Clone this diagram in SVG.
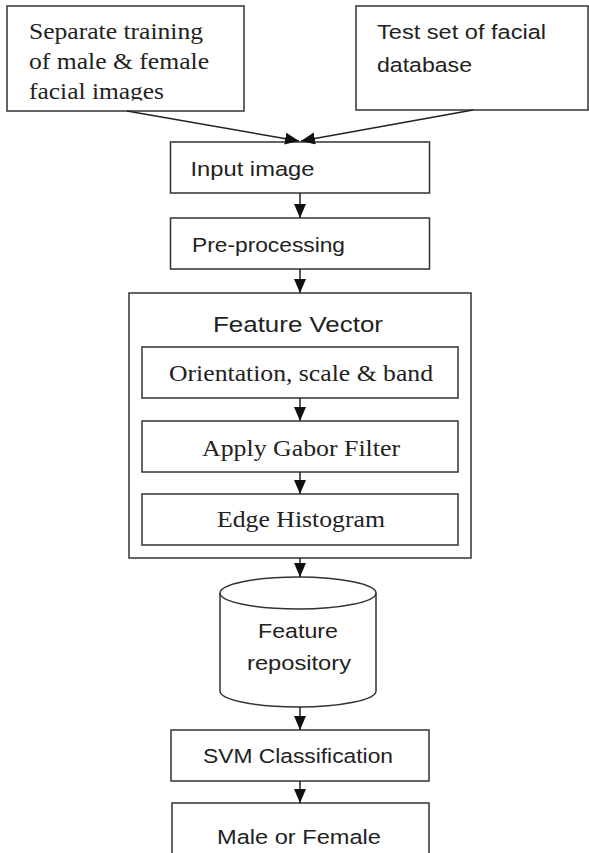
<svg xmlns="http://www.w3.org/2000/svg" width="589" height="853" viewBox="0 0 589 853">
<style>
.box{fill:#fff;stroke:#333;stroke-width:1.5}
.con{fill:none;stroke:#222;stroke-width:1.5}
.serif{font-family:"Liberation Serif","Times New Roman",serif;font-size:23px;fill:#222}
.sans{font-family:"Liberation Sans",Arial,sans-serif;font-size:20.5px;fill:#222}
</style>
<defs>
<marker id="arr" markerUnits="userSpaceOnUse" markerWidth="15" markerHeight="13" refX="14" refY="6" orient="auto">
<path d="M0,0 L14,6 L0,12 z" fill="#111"/>
</marker>
<clipPath id="clip1"><rect x="7" y="6" width="237" height="94.5"/></clipPath>
</defs>
<rect width="589" height="853" fill="#fff"/>
<g id="training">
<rect class="box" x="7" y="6" width="237" height="105"/>
<g clip-path="url(#clip1)">
<text class="serif" x="29" y="39" textLength="174" lengthAdjust="spacingAndGlyphs">Separate training</text>
<text class="serif" x="29" y="69" textLength="180" lengthAdjust="spacingAndGlyphs">of male &amp; female</text>
<text class="serif" x="29" y="99" textLength="135" lengthAdjust="spacingAndGlyphs">facial images</text>
</g>
</g>
<g id="testset">
<rect class="box" x="356" y="6" width="232" height="104"/>
<text class="sans" x="377" y="39" textLength="169" lengthAdjust="spacingAndGlyphs">Test set of facial</text>
<text class="sans" x="377" y="72" textLength="95" lengthAdjust="spacingAndGlyphs">database</text>
</g>
<g id="input">
<rect class="box" x="170.5" y="142" width="259" height="51"/>
<text class="sans" x="190.5" y="175.5" textLength="124" lengthAdjust="spacingAndGlyphs">Input image</text>
</g>
<g id="preprocessing">
<rect class="box" x="170.5" y="218" width="259" height="51"/>
<text class="sans" x="192" y="252" textLength="153" lengthAdjust="spacingAndGlyphs">Pre-processing</text>
</g>
<g id="featurevector">
<rect class="box" x="129" y="293" width="342" height="265"/>
<text class="sans" x="213" y="332" style="font-size:22px" textLength="170" lengthAdjust="spacingAndGlyphs">Feature Vector</text>
</g>
<g id="orientation">
<rect class="box" x="142" y="347" width="316" height="51"/>
<text class="serif" x="169" y="381" textLength="264" lengthAdjust="spacingAndGlyphs">Orientation, scale &amp; band</text>
</g>
<g id="gabor">
<rect class="box" x="142" y="421" width="316" height="51"/>
<text class="serif" x="202" y="456" textLength="198" lengthAdjust="spacingAndGlyphs">Apply Gabor Filter</text>
</g>
<g id="edge">
<rect class="box" x="142" y="494" width="316" height="51"/>
<text class="serif" x="217" y="527" textLength="168" lengthAdjust="spacingAndGlyphs">Edge Histogram</text>
</g>
<g id="repository">
<path class="box" d="M220,593 L220,691 A78,16 0 0 0 376,691 L376,593 A78,16 0 0 0 220,593 Z"/>
<path class="box" style="fill:none" d="M220,593 A78,16 0 0 0 376,593"/>
<text class="sans" x="258" y="638" textLength="80" lengthAdjust="spacingAndGlyphs">Feature</text>
<text class="sans" x="247" y="670" textLength="104" lengthAdjust="spacingAndGlyphs">repository</text>
</g>
<g id="svm">
<rect class="box" x="171" y="730" width="258" height="51"/>
<text class="sans" x="203" y="763" textLength="190" lengthAdjust="spacingAndGlyphs">SVM Classification</text>
</g>
<g id="result">
<rect class="box" x="172" y="803" width="257" height="60"/>
<text class="sans" x="217" y="844" textLength="164" lengthAdjust="spacingAndGlyphs">Male or Female</text>
</g>
<g id="connectors">
<line class="con" x1="127" y1="111" x2="299" y2="141" marker-end="url(#arr)"/>
<line class="con" x1="473" y1="110" x2="301" y2="141" marker-end="url(#arr)"/>
<line class="con" x1="300" y1="193" x2="300" y2="218" marker-end="url(#arr)"/>
<line class="con" x1="300" y1="269" x2="300" y2="293" marker-end="url(#arr)"/>
<line class="con" x1="300" y1="398" x2="300" y2="421" marker-end="url(#arr)"/>
<line class="con" x1="300" y1="472" x2="300" y2="494" marker-end="url(#arr)"/>
<line class="con" x1="300" y1="558" x2="300" y2="577" marker-end="url(#arr)"/>
<line class="con" x1="300" y1="707" x2="300" y2="730" marker-end="url(#arr)"/>
<line class="con" x1="300" y1="781" x2="300" y2="803" marker-end="url(#arr)"/>
</g>
</svg>
